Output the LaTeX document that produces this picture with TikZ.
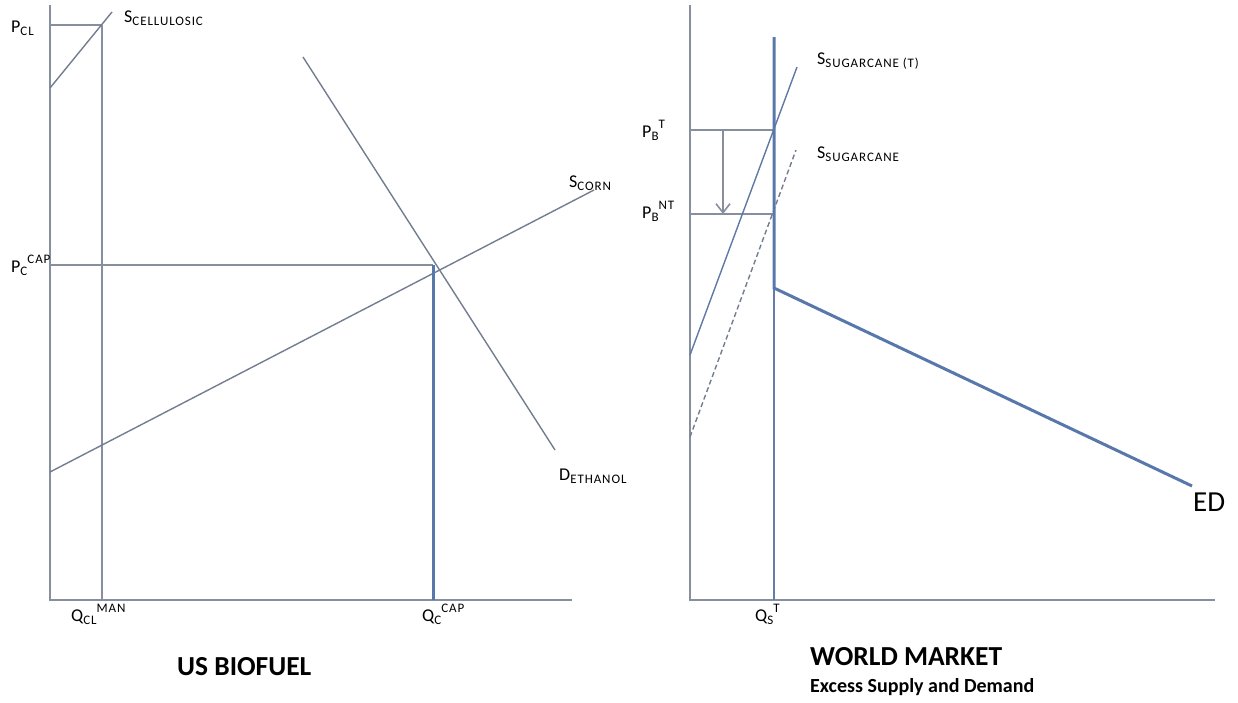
\documentclass[tikz,border=0pt]{standalone}
\usepackage{fontspec}
\setmainfont{Carlito}
\newfontfamily\subfont[LetterSpace=7]{Carlito}
\usetikzlibrary{arrows.meta}
\tikzset{
  ax/.style={draw={rgb,255:red,135;green,143;blue,158}, line width=1.6pt},
  curve/.style={draw={rgb,255:red,115;green,125;blue,145}, line width=1.4pt},
  thick blue/.style={draw={rgb,255:red,88;green,120;blue,172}, line width=3pt},
  thin blue/.style={draw={rgb,255:red,100;green,125;blue,170}, line width=1.6pt},
  lab/.style={font=\fontsize{18}{18}\selectfont, inner sep=0pt, anchor=base west},
  ttl/.style={font=\fontsize{27.5}{27.5}\selectfont\bfseries, inner sep=0pt, anchor=base west},
}
\newcommand{\sbs}[1]{\raisebox{-0.22em}{\subfont\fontsize{13}{13}\selectfont #1}}
\newcommand{\sps}[1]{\raisebox{0.45em}{\subfont\fontsize{13}{13}\selectfont #1}}
\begin{document}
\begin{tikzpicture}[x=1pt,y=-1pt]
\useasboundingbox (0,0) rectangle (1238,702);
% ---------- left panel ----------
\coordinate (lo) at (50,600);
\coordinate (ltop) at (50,5);
\coordinate (lxe) at (572,600);
\coordinate (qcl) at (102,600);
\coordinate (qcltop) at (102,25);
\coordinate (pcl) at (50,25);
\coordinate (sc1) at (50,88);
\coordinate (sc2) at (112,12);
\coordinate (co1) at (50,472);
\coordinate (co2) at (594,190);
\coordinate (de1) at (303,57);
\coordinate (de2) at (555,450);
\coordinate (pcap) at (50,265);
\coordinate (eq) at (433,265);
\coordinate (qcap) at (433,600);
\draw[ax] (ltop) -- (lo) -- (lxe);
\draw[ax] (qcltop) -- (qcl);
\draw[ax] (pcl) -- (qcltop);
\draw[curve] (sc1) -- (sc2);
\draw[curve] (co1) -- (co2);
\draw[curve] (de1) -- (de2);
\draw[ax] (pcap) -- (eq);
\draw[thick blue] (eq) -- (qcap);
\node[lab] (lpcl) at (11,32) {P\sbs{CL}};
\node[lab] (lscel) at (124,22) {S\sbs{CELLULOSIC}};
\node[lab] (lpcap) at (11,272) {P\sbs{C}\sps{CAP}};
\node[lab] (lscorn) at (569,187) {S\sbs{CORN}};
\node[lab] (ldeth) at (559,480) {D\sbs{ETHANOL}};
\node[lab] (lqcl) at (71,621) {Q\sbs{CL}\sps{MAN}};
\node[lab] (lqcap) at (422,621) {Q\sbs{C}\sps{CAP}};
\node[ttl] (tus) at (177,675) {US BIOFUEL};
% ---------- right panel ----------
\coordinate (ro) at (690,600);
\coordinate (rtop) at (690,5);
\coordinate (rxe) at (1215,600);
\coordinate (qs) at (774,600);
\coordinate (kink) at (774,288);
\coordinate (qstop) at (774,37);
\coordinate (edend) at (1192,486);
\coordinate (pbt) at (690,130);
\coordinate (pbtr) at (774,130);
\coordinate (pbnt) at (690,214);
\coordinate (pbntr) at (774,214);
\coordinate (ar1) at (723,130);
\coordinate (ar2) at (723,214);
\coordinate (st1) at (690,355);
\coordinate (st2) at (797,67);
\coordinate (ss1) at (690,437);
\coordinate (ss2) at (796,150);
\draw[ax] (rtop) -- (ro) -- (rxe);
\draw[thin blue] (kink) -- (qs);
\draw[ax] (pbt) -- (pbtr);
\draw[ax] (pbnt) -- (pbntr);
\draw[ax, -{Straight Barb[length=9pt,width=14pt]}] (ar1) -- (ar2);
\draw[curve, draw={rgb,255:red,95;green,120;blue,165}] (st1) -- (st2);
\draw[curve, dashed, dash pattern=on 5pt off 3pt] (ss1) -- (ss2);
\draw[thick blue, line join=miter] (qstop) -- (kink) -- (edend);
\node[lab] (lpbt) at (642,137) {P\sbs{B}\sps{T}};
\node[lab] (lpbnt) at (642,218) {P\sbs{B}\sps{NT}};
\node[lab] (lsst) at (817,64) {S\sbs{SUGARCANE (T)}};
\node[lab] (lss) at (817,158) {S\sbs{SUGARCANE}};
\node[lab] (lqs) at (755,621) {Q\sbs{S}\sps{T}};
\node[font=\fontsize{29}{29}\selectfont, inner sep=0pt, anchor=base west] (led) at (1193,511) {ED};
\node[ttl] (twm) at (810,665) {WORLD MARKET};
\node[font=\fontsize{20}{20}\selectfont\bfseries, inner sep=0pt, anchor=base west] (tex) at (810,692) {Excess Supply and Demand};
\end{tikzpicture}
\end{document}
